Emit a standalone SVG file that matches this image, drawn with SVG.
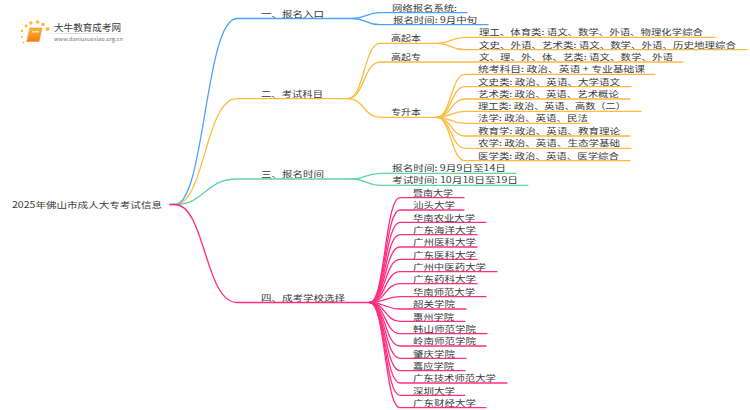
<svg xmlns="http://www.w3.org/2000/svg" width="750" height="410" viewBox="0 0 750 410">
<style>
text{font-family:"Noto Sans CJK SC","Noto Sans",sans-serif;font-size:8.400px;fill:#3a3a3a;}
path{fill:none;stroke-width:1.3;stroke-linecap:round;}
.b{stroke:#4aa3ff}.o{stroke:#fdbb3f}.g{stroke:#62d6a0}.p{stroke:#ff2f80}
</style>
<defs><linearGradient id="fade" x1="0" x2="1" y1="0" y2="0"><stop offset="0" stop-color="#ccc" stop-opacity="0"/><stop offset=".3" stop-color="#ccc"/><stop offset="1" stop-color="#ccc" stop-opacity="0"/></linearGradient>
<linearGradient id="bk" x1="0" x2="0" y1="0" y2="1"><stop offset="0" stop-color="#fbb62e"/><stop offset="1" stop-color="#ee7d12"/></linearGradient></defs>
<g id="logo">
<g fill="#fbb93c"><circle cx="22" cy="37" r="1"/><circle cx="22" cy="31" r="1.2"/><circle cx="26" cy="26" r="1.4"/><circle cx="31" cy="23" r="1.7"/><circle cx="37.500" cy="22" r="1.800"/><circle cx="43" cy="24.500" r="1.800"/><circle cx="47.500" cy="29" r="2"/><circle cx="23.500" cy="42.500" r="0.900"/></g>
<path d="M30 28H42L39 41.500H27Z" style="fill:url(#bk);stroke:#ee8a1c;stroke-width:0.6"/>
<rect x="32" y="31" width="7" height="1.500" fill="#fde6a8"/>
<rect x="45" y="33" width="88" height="0.800" fill="url(#fade)"/>
<text x="54" y="30.500" textLength="67" lengthAdjust="spacingAndGlyphs" style="font-size:9.500px">大牛教育成考网</text>
<text x="54" y="41" textLength="69" lengthAdjust="spacingAndGlyphs" style="font-size:5.500px;fill:#777">www.daniuxuexiao.org.cn</text>
</g>
<g id="connectors">
<path class="b" d="M170 204.500H175C205 204.500 205 18.500 237 18.500H352"/>
<path class="o" d="M175 204.500C205 204.500 205 98.700 237 98.700H348"/>
<path class="g" d="M175 204.500C205 204.500 205 179 237 179H352"/>
<path class="p" d="M170 204.500H175C205 204.500 205 302.500 237 302.500H370"/>
<path class="b" d="M352 18.500C366 18.500 366 12.700 380 12.700H467"/>
<path class="b" d="M352 18.500C366 18.500 366 24.700 380 24.700H488"/>
<path class="o" d="M348 98.700C364 98.700 364 43.400 380 43.400H437"/>
<path class="o" d="M348 98.700C364 98.700 364 62 380 62H683"/>
<path class="o" d="M348 98.700C364 98.700 364 117.300 380 117.300H437"/>
<path class="o" d="M437 43.400C451 43.400 451 37.400 465 37.400H715"/>
<path class="o" d="M437 43.400C451 43.400 451 49.700 465 49.700H747"/>
<path class="o" d="M437 117.300C451 117.300 451 74.300 465 74.300H655"/>
<path class="o" d="M437 117.300C451 117.300 451 86.700 465 86.700H631"/>
<path class="o" d="M437 117.300C451 117.300 451 99 465 99H630"/>
<path class="o" d="M437 117.300C451 117.300 451 111.300 465 111.300H641"/>
<path class="o" d="M437 117.300C451 117.300 451 123.300 465 123.300H589"/>
<path class="o" d="M437 117.300C451 117.300 451 136 465 136H630"/>
<path class="o" d="M437 117.300C451 117.300 451 148.300 465 148.300H631"/>
<path class="o" d="M437 117.300C451 117.300 451 160.700 465 160.700H630"/>
<path class="g" d="M352 179C366 179 366 173.300 380 173.300H516"/>
<path class="g" d="M352 179C366 179 366 185.300 380 185.300H528"/>
<path class="p" d="M370 302.500C385 302.500 385 197.700 400 197.700H464"/>
<path class="p" d="M370 302.500C385 302.500 385 210 400 210H464"/>
<path class="p" d="M370 302.500C385 302.500 385 222.300 400 222.300H486"/>
<path class="p" d="M370 302.500C385 302.500 385 234.700 400 234.700H477"/>
<path class="p" d="M370 302.500C385 302.500 385 247 400 247H477"/>
<path class="p" d="M370 302.500C385 302.500 385 259.300 400 259.300H477"/>
<path class="p" d="M370 302.500C385 302.500 385 271.700 400 271.700H497"/>
<path class="p" d="M370 302.500C385 302.500 385 283.700 400 283.700H477"/>
<path class="p" d="M370 302.500C385 302.500 385 296.700 400 296.700H486"/>
<path class="p" d="M370 302.500C385 302.500 385 309 400 309H466"/>
<path class="p" d="M370 302.500C385 302.500 385 321.300 400 321.300H465"/>
<path class="p" d="M370 302.500C385 302.500 385 333.700 400 333.700H487"/>
<path class="p" d="M370 302.500C385 302.500 385 346 400 346H486"/>
<path class="p" d="M370 302.500C385 302.500 385 358.300 400 358.300H466"/>
<path class="p" d="M370 302.500C385 302.500 385 370.700 400 370.700H465"/>
<path class="p" d="M370 302.500C385 302.500 385 383 400 383H507"/>
<path class="p" d="M370 302.500C385 302.500 385 395.300 400 395.300H465"/>
<path class="p" d="M370 302.500C385 302.500 385 407.700 400 407.700H486"/>
</g>
<g id="root"><text x="12" y="208" textLength="150" lengthAdjust="spacingAndGlyphs">2025年佛山市成人大专考试信息</text></g>
<g id="n1"><text x="261" y="16.500" textLength="63" lengthAdjust="spacingAndGlyphs">一、报名入口</text></g>
<g id="n2"><text x="261" y="96.700" textLength="62" lengthAdjust="spacingAndGlyphs">二、考试科目</text></g>
<g id="n3"><text x="261" y="177" textLength="63" lengthAdjust="spacingAndGlyphs">三、报名时间</text></g>
<g id="n4"><text x="261" y="300.500" textLength="84" lengthAdjust="spacingAndGlyphs">四、成考学校选择</text></g>
<g id="n1a"><text x="392" y="10.700" textLength="65" lengthAdjust="spacingAndGlyphs">网络报名系统:</text></g>
<g id="n1b"><text x="393" y="22.700" textLength="84" lengthAdjust="spacingAndGlyphs">报名时间: 9月中旬</text></g>
<g id="n2a"><text x="391" y="41.400" textLength="30" lengthAdjust="spacingAndGlyphs">高起本</text></g>
<g id="n2b"><text x="391" y="60" textLength="30" lengthAdjust="spacingAndGlyphs">高起专</text></g>
<g id="n2c"><text x="391" y="115.300" textLength="30" lengthAdjust="spacingAndGlyphs">专升本</text></g>
<g id="n2a1"><text x="479" y="35.400" textLength="224" lengthAdjust="spacingAndGlyphs">理工、体育类: 语文、数学、外语、物理化学综合</text></g>
<g id="n2a2"><text x="479" y="47.700" textLength="257" lengthAdjust="spacingAndGlyphs">文史、外语、艺术类: 语文、数学、外语、历史地理综合</text></g>
<g id="n2b1"><text x="479" y="60" textLength="194" lengthAdjust="spacingAndGlyphs">文、理、外、体、艺类: 语文、数学、外语</text></g>
<g id="n2c1"><text x="478" y="72.300" textLength="167" lengthAdjust="spacingAndGlyphs">统考科目: 政治、英语 + 专业基础课</text></g>
<g id="n2c2"><text x="478" y="84.700" textLength="142" lengthAdjust="spacingAndGlyphs">文史类: 政治、英语、大学语文</text></g>
<g id="n2c3"><text x="478" y="97" textLength="141" lengthAdjust="spacingAndGlyphs">艺术类: 政治、英语、艺术概论</text></g>
<g id="n2c4"><text x="478" y="109.300" textLength="148" lengthAdjust="spacingAndGlyphs">理工类: 政治、英语、高数（二）</text></g>
<g id="n2c5"><text x="478" y="121.300" textLength="110" lengthAdjust="spacingAndGlyphs">法学: 政治、英语、民法</text></g>
<g id="n2c6"><text x="478" y="134" textLength="142" lengthAdjust="spacingAndGlyphs">教育学: 政治、英语、教育理论</text></g>
<g id="n2c7"><text x="478" y="146.300" textLength="142" lengthAdjust="spacingAndGlyphs">农学: 政治、英语、生态学基础</text></g>
<g id="n2c8"><text x="478" y="158.700" textLength="141" lengthAdjust="spacingAndGlyphs">医学类: 政治、英语、医学综合</text></g>
<g id="n3a"><text x="392" y="171.300" textLength="114" lengthAdjust="spacingAndGlyphs">报名时间: 9月9日至14日</text></g>
<g id="n3b"><text x="392" y="183.300" textLength="126" lengthAdjust="spacingAndGlyphs">考试时间: 10月18日至19日</text></g>
<g id="s1"><text x="413" y="196" textLength="40" lengthAdjust="spacingAndGlyphs">暨南大学</text></g>
<g id="s2"><text x="413" y="208.300" textLength="42" lengthAdjust="spacingAndGlyphs">汕头大学</text></g>
<g id="s3"><text x="413" y="220.700" textLength="62" lengthAdjust="spacingAndGlyphs">华南农业大学</text></g>
<g id="s4"><text x="413" y="233" textLength="63" lengthAdjust="spacingAndGlyphs">广东海洋大学</text></g>
<g id="s5"><text x="413" y="245.300" textLength="63" lengthAdjust="spacingAndGlyphs">广州医科大学</text></g>
<g id="s6"><text x="413" y="257.700" textLength="63" lengthAdjust="spacingAndGlyphs">广东医科大学</text></g>
<g id="s7"><text x="413" y="270" textLength="73" lengthAdjust="spacingAndGlyphs">广州中医药大学</text></g>
<g id="s8"><text x="413" y="282" textLength="63" lengthAdjust="spacingAndGlyphs">广东药科大学</text></g>
<g id="s9"><text x="413" y="295" textLength="62" lengthAdjust="spacingAndGlyphs">华南师范大学</text></g>
<g id="s10"><text x="413" y="307.300" textLength="42" lengthAdjust="spacingAndGlyphs">韶关学院</text></g>
<g id="s11"><text x="413" y="319.700" textLength="41" lengthAdjust="spacingAndGlyphs">惠州学院</text></g>
<g id="s12"><text x="413" y="332" textLength="63" lengthAdjust="spacingAndGlyphs">韩山师范学院</text></g>
<g id="s13"><text x="413" y="344.300" textLength="63" lengthAdjust="spacingAndGlyphs">岭南师范学院</text></g>
<g id="s14"><text x="413" y="356.700" textLength="42" lengthAdjust="spacingAndGlyphs">肇庆学院</text></g>
<g id="s15"><text x="413" y="369" textLength="41" lengthAdjust="spacingAndGlyphs">嘉应学院</text></g>
<g id="s16"><text x="413" y="381.300" textLength="83" lengthAdjust="spacingAndGlyphs">广东技术师范大学</text></g>
<g id="s17"><text x="413" y="393.700" textLength="42" lengthAdjust="spacingAndGlyphs">深圳大学</text></g>
<g id="s18"><text x="413" y="406" textLength="63" lengthAdjust="spacingAndGlyphs">广东财经大学</text></g>
</svg>
